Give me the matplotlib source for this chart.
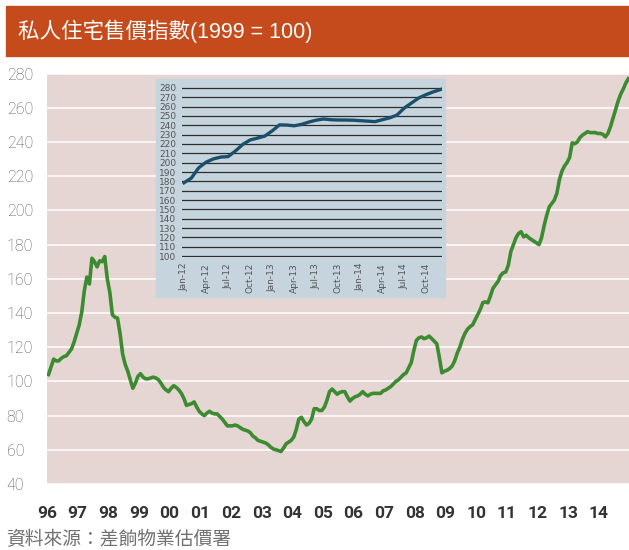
import numpy as np
import matplotlib
matplotlib.use('Agg')
import matplotlib.pyplot as plt
from matplotlib.patches import Rectangle

# monthly index, Jan 1996 - Dec 2014
idx_1996 = [104, 108.5, 113, 112, 112, 113.5, 114.5, 115, 117, 119, 123, 128]
idx_1997 = [133, 140.5, 153, 161, 157, 172, 170, 167, 170.5, 170, 173, 160]
idx_1998 = [152, 139, 137.5, 137, 128, 116, 110, 106, 101, 96, 99, 103]
idx_1999 = [104.5, 102.5, 101.5, 101.5, 102, 102.5, 102, 101, 99, 96.5, 95, 94]
idx_2000 = [96, 97.5, 96.5, 95, 93, 90, 86, 86.5, 87, 88, 85, 82.5]
idx_2001 = [81, 80, 81.5, 82.5, 81.5, 81, 81, 79.5, 78, 76, 74, 74]
idx_2002 = [74, 74.5, 74, 73, 72, 71.5, 71, 70, 68, 67, 65.5, 65]
idx_2003 = [64.5, 64, 63, 61.5, 60.5, 60, 59.5, 59, 61, 63.5, 64.5, 65.5]
idx_2004 = [67.5, 72, 78, 79, 76.5, 74.5, 75.5, 78, 84, 84, 83, 83]
idx_2005 = [85, 89, 94, 95.5, 94, 92.5, 93.5, 94, 94, 91, 88.5, 90]
idx_2006 = [91, 91.5, 92.5, 94, 92.5, 91.5, 92.5, 93, 93, 93, 93, 94.5]
idx_2007 = [95, 96, 97, 98.5, 100, 101, 102.5, 104, 105, 108, 111, 118]
idx_2008 = [124, 125.5, 126, 125, 125.5, 126.5, 125, 123.5, 122, 114, 105, 106]
idx_2009 = [106.5, 107.5, 109, 112, 116.5, 120, 124.5, 128, 130.5, 132, 133, 136]
idx_2010 = [139, 142, 146, 146.5, 146, 150, 154.5, 156.5, 158.5, 162, 163.5, 164]
idx_2011 = [168, 176, 180, 184, 186.5, 187.5, 184.5, 185.5, 184, 183, 182, 181]
idx_2012 = [180, 184, 191, 197, 202, 204, 206, 210, 218, 223, 226, 228]
idx_2013 = [231, 239.5, 239, 240, 242.5, 244, 245, 246, 245.5, 245.5, 245.5, 245]
idx_2014 = [245, 244.5, 243, 245, 249, 254, 259, 264, 268, 271, 274.5, 277]

main_vals = (idx_1996 + idx_1997 + idx_1998 + idx_1999 + idx_2000 + idx_2001 +
             idx_2002 + idx_2003 + idx_2004 + idx_2005 + idx_2006 + idx_2007 +
             idx_2008 + idx_2009 + idx_2010 + idx_2011 + idx_2012 + idx_2013 + idx_2014)
year_labels = ['96', '97', '98', '99', '00', '01', '02', '03', '04', '05',
               '06', '07', '08', '09', '10', '11', '12', '13', '14']

# inset: Jan-12 .. Dec-14
inset_vals = [178.5, 183.5, 194.5, 200.5, 204, 206, 206.5, 212.5, 219.5, 224.3, 226.3, 228.5,
              234, 240.5, 240.3, 239.5, 241, 243.5, 245.5, 246.8, 246, 245.7, 245.7, 245.5,
              245, 244.5, 244, 246, 248, 251, 258.5, 264, 269.5, 273, 276, 278.5]
inset_labels = ['Jan-12', 'Apr-12', 'Jul-12', 'Oct-12', 'Jan-13', 'Apr-13',
                'Jul-13', 'Oct-13', 'Jan-14', 'Apr-14', 'Jul-14', 'Oct-14']

title = '私人住宅售價指數(1999 = 100)'
source = '資料來源：差餉物業估價署'
cjk = ['Noto Sans CJK TC', 'DejaVu Sans']

W, H = 629, 550
fig = plt.figure(figsize=(W / 100, H / 100), dpi=100)


def box(x0, y0, x1, y1):
    return [x0 / W, 1 - y1 / H, (x1 - x0) / W, (y1 - y0) / H]


# title bar
fig.patches.append(Rectangle((6 / W, 1 - 56 / H), 623 / W, 50 / H,
                             transform=fig.transFigure, color='#C54B1C', zorder=0))
fig.text(18 / W, 1 - 31 / H, title, color='white', fontsize=15.5, va='center',
         family=['Liberation Sans', 'Noto Sans CJK TC'])

# main chart
ax = fig.add_axes(box(47, 73.6, 629, 484))
ax.set_facecolor('#E5D5D3')
t = 1996 + np.arange(len(main_vals)) / 12
ax.plot(t, main_vals, color='#3D8B30', lw=2.6, solid_joinstyle='round', zorder=3)
ax.set_xlim(1996.0, 1996 + 227 / 12 + 0.02)
ax.set_ylim(40, 280)
ax.set_yticks(range(40, 281, 20))
ax.set_yticklabels([str(v) for v in range(40, 281, 20)], fontfamily='Roboto',
                   fontweight='light', fontsize=11.5, color='#555555', ha='left')
ax.set_xticks(np.arange(1996, 2015) - 0.05)
ax.set_xticklabels(year_labels, fontfamily='Roboto', fontweight='bold',
                   fontsize=12.5, color='#333333')
ax.tick_params(axis='y', length=0, pad=29)
ax.tick_params(axis='x', length=0, pad=15.5)
ax.grid(axis='y', color='white', lw=1.1)
ax.set_axisbelow(True)
for s in ax.spines.values():
    s.set_visible(False)

# inset background
ax.add_patch(Rectangle((156 / W, 1 - 297 / H), 289 / W, 218 / H, transform=fig.transFigure,
                       color='#C6D4DE', zorder=5, clip_on=False))

ins = fig.add_axes(box(182, 87, 442, 257))
ins.set_facecolor('none')
ins.plot(np.arange(len(inset_vals)), inset_vals, color='#1C4F6C', lw=2.4, zorder=3)
ins.set_xlim(-0.272, 35.136)
ins.set_ylim(98.93, 281.07)
ins.set_yticks(range(100, 281, 10))
ins.set_yticklabels([str(v) for v in range(100, 281, 10)], fontsize=6.5, color='#555555')
ins.set_xticks(np.arange(0, 36, 3))
ins.set_xticklabels(inset_labels, rotation=90, fontsize=6.5, color='#555555')
ins.tick_params(length=0, pad=4.3)
ins.grid(axis='y', color='#2E2E2E', lw=0.9)
ins.set_axisbelow(True)
for s in ins.spines.values():
    s.set_visible(False)

fig.text(6 / W, 1 - 540 / H, source, color='#707070', fontsize=13.5, va='center',
         family=cjk, fontweight='light')

fig.savefig('out.png', dpi=100)
